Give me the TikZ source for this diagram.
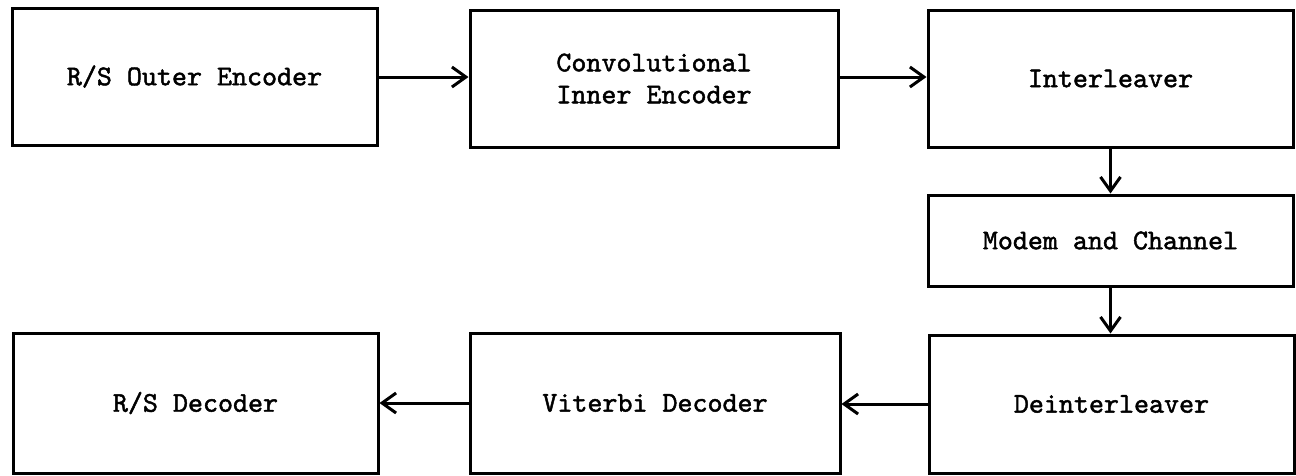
\documentclass[tikz,border=0pt]{standalone}
\usepackage{fontspec}
\newfontfamily\tyfont{lmmono10-regular}[Extension=.otf,FakeBold=1.6]
\usetikzlibrary{arrows.meta}
\begin{document}
\begin{tikzpicture}[x=1pt,y=-1pt,
  blk/.style={draw,line width=3pt,minimum width=365pt,minimum height=137pt,
    inner sep=0pt,font=\tyfont\fontsize{28.6}{32}\selectfont,align=center},
  conn/.style={line width=3pt,-{Straight Barb[length=14pt,width=20pt,line width=3pt]}}]
\useasboundingbox (0,0) rectangle (1296,475);
\node[blk] (rso) at (194.5,76.5) {R/S Outer Encoder};
\node[blk,minimum width=368pt] (cie) at (654,78.5) {Convolutional\\Inner Encoder};
\node[blk] (il) at (1110.5,78.5) {Interleaver};
\node[blk,minimum height=91pt] (mc) at (1110.5,240.5) {Modem and Channel};
\node[blk,minimum height=138pt] (dil) at (1111.5,404) {Deinterleaver};
\node[blk,minimum width=370pt,minimum height=140pt] (vd) at (655,403) {Viterbi Decoder};
\node[blk,minimum height=140pt] (rsd) at (195.5,403) {R/S Decoder};
\draw[conn] (rso.east |- 0,77) -- (cie.west |- 0,77);
\draw[conn] (cie.east |- 0,77) -- (il.west |- 0,77);
\draw[conn] (il.south) -- (mc.north);
\draw[conn] (mc.south) -- (mc.south |- dil.north);
\draw[conn] (dil.west) -- (vd.east |- dil.west);
\draw[conn] (vd.west) -- (rsd.east |- vd.west);
\end{tikzpicture}
\end{document}
